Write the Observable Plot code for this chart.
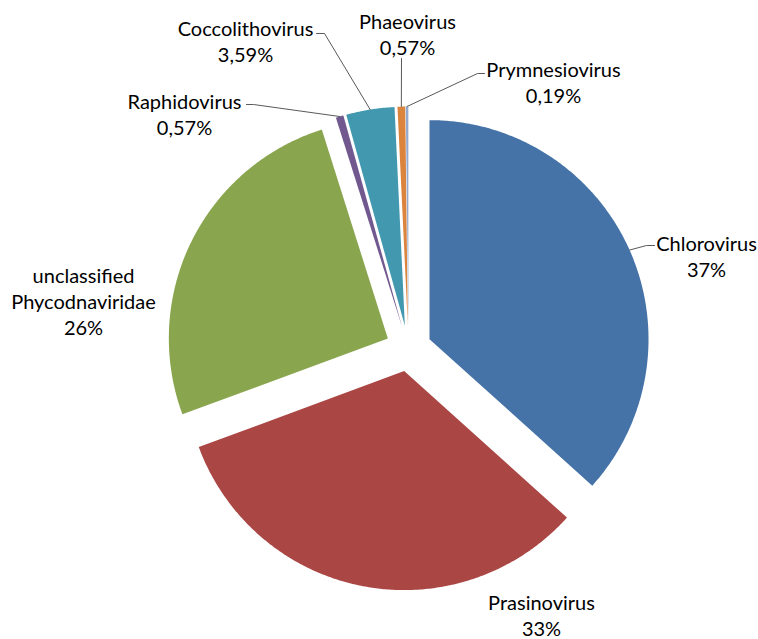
<!DOCTYPE html>
<html>
<head>
<meta charset="utf-8">
<script src="https://cdn.jsdelivr.net/npm/d3@7"></script>
<script src="https://cdn.jsdelivr.net/npm/@observablehq/plot@0.6"></script>
<style>
  html, body { margin: 0; padding: 0; background: #fff; }
  #chart svg { display: block; }
</style>
</head>
<body>
<div id="chart"></div>
<script>
// ---- data ----
const categories = ["Chlorovirus", "Prasinovirus", "unclassified Phycodnaviridae", "Raphidovirus", "Coccolithovirus", "Phaeovirus", "Prymnesiovirus"];
const values = [37, 33, 26, 0.57, 3.59, 0.57, 0.19];
const valueLabels = ["37%", "33%", "26%", "0,57%", "3,59%", "0,57%", "0,19%"];
const colors = ["#4572A7", "#AA4643", "#89A54E", "#71588F", "#4198AF", "#DB843D", "#93A9CF"];

// ---- layout ----
const W = 758, H = 639;
const center = [408, 348];
const radius = 219;
const explode = 23;
const fontFamily = "Lato, 'Open Sans', sans-serif";
const fontSize = 20;
// label block centres (pixel units of the plot)
const labelPos = [[706, 255], [541, 614], [83, 300], [184, 113], [245, 40], [407, 33], [553, 81]];
// label-side end of leader lines (null = no leader)
const leaderEnds = [
  [[654, 245], [646, 245]],
  null,
  null,
  [[246, 104], [253, 104]],
  [[316, 33], [324, 33]],
  [[401, 58]],
  [[484, 73], [477, 73]]
];

const pie = d3.pie().sort(null).startAngle(0).endAngle(2 * Math.PI)(values);

function pt(c, r, a) { return [c[0] + r * Math.sin(a), c[1] - r * Math.cos(a)]; }

const slices = pie.map((p, i) => {
  const mid = (p.startAngle + p.endAngle) / 2;
  const c = pt(center, explode, mid);
  const n = Math.max(4, Math.ceil((p.endAngle - p.startAngle) / (Math.PI / 360)));
  const pts = [{x: c[0], y: c[1]}];
  for (let k = 0; k <= n; k++) {
    const a = p.startAngle + (p.endAngle - p.startAngle) * k / n;
    const q = pt(c, radius, a);
    pts.push({x: q[0], y: q[1]});
  }
  pts.push({x: c[0], y: c[1]});
  const outer = pt(c, radius, mid);
  return {name: categories[i], color: colors[i], pts, outer};
});

const labels = categories.map((name, i) => ({
  text: (name === "unclassified Phycodnaviridae" ? "unclassified\nPhycodnaviridae" : name) + "\n" + valueLabels[i],
  x: labelPos[i][0],
  y: labelPos[i][1]
}));

const leaders = [];
slices.forEach((s, i) => {
  if (!leaderEnds[i]) return;
  const path = leaderEnds[i].map(p => ({x: p[0], y: p[1], id: s.name}));
  path.push({x: s.outer[0], y: s.outer[1], id: s.name});
  leaders.push(...path);
});

const chart = Plot.plot({
  width: W,
  height: H,
  margin: 0,
  style: {background: "#fff"},
  x: {domain: [0, W], axis: null},
  y: {domain: [H, 0], axis: null},
  marks: [
    ...slices.map(s => Plot.line(s.pts, {x: "x", y: "y", fill: s.color, stroke: "none", curve: "linear"})),
    Plot.line(leaders, {x: "x", y: "y", z: "id", stroke: "#595959", strokeWidth: 1}),
    Plot.text(labels, {x: "x", y: "y", text: "text", fontSize, fontFamily, fill: "#000", lineHeight: 1.3, textAnchor: "middle", lineAnchor: "middle"})
  ]
});
document.getElementById("chart").appendChild(chart);
</script>
</body>
</html>
